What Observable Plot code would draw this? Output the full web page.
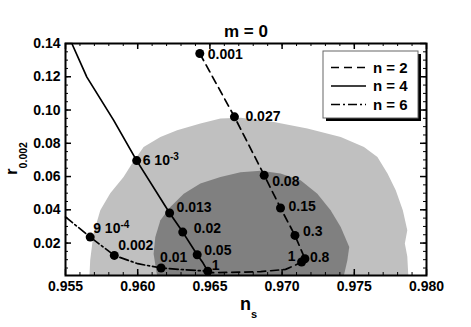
<!DOCTYPE html>
<html><head><meta charset="utf-8">
<script src="https://cdn.jsdelivr.net/npm/d3@7"></script>
<script src="https://cdn.jsdelivr.net/npm/@observablehq/plot@0.6"></script>
<style>body{margin:0;background:#fff}</style>
</head><body><div id="chart"></div>
<script>
// ---- data ----
const xTicks = [0.955, 0.960, 0.965, 0.970, 0.975, 0.980];
const yTicks = [0.02, 0.04, 0.06, 0.08, 0.10, 0.12, 0.14];
const xMinor = d3.range(0.955, 0.9805, 0.001);
const yMinor = d3.range(0.005, 0.1405, 0.005);

// 95% (light) and 68% (dark) regions
const lightNs = [0.95666,0.95671,0.95694,0.95741,0.95810,0.95902,0.95961,0.96041,0.96157,0.96273,0.96434,0.96573,0.96712,0.96943,0.97175,0.97406,0.97567,0.97660,0.97730,0.97787,0.97836,0.97867,0.97850,0.97867,0.97874];
const lightR  = [0.0005,0.0096,0.0257,0.0397,0.0499,0.0597,0.0678,0.0778,0.0838,0.0879,0.0919,0.0949,0.0954,0.0928,0.0889,0.0838,0.0778,0.0718,0.0618,0.0517,0.0397,0.0277,0.0198,0.0120,0.0005];
const darkNs = [0.96134,0.96110,0.96122,0.96157,0.96226,0.96319,0.96434,0.96573,0.96712,0.96851,0.96989,0.97128,0.97244,0.97336,0.97406,0.97465,0.97452,0.97428];
const darkR  = [0.0005,0.0136,0.0236,0.0337,0.0417,0.0497,0.0558,0.0597,0.0626,0.0635,0.0618,0.0578,0.0497,0.0397,0.0296,0.0176,0.0096,0.0005];

// n = 2 (dashed)
const n2CurveNs = [0.96430,0.96670,0.96876,0.96989,0.97089,0.97158,0.97135,0.97100,0.97024,0.96851,0.96643,0.96483];
const n2CurveR  = [0.1340,0.0959,0.0608,0.0411,0.0246,0.0106,0.0086,0.0071,0.0042,0.0028,0.0024,0.0021];
const n2Labels = ["0.001","0.027","0.08","0.15","0.3","0.8","1"];
const n2Ns = [0.96430,0.96670,0.96876,0.96989,0.97089,0.97158,0.97135];
const n2R  = [0.1340,0.0959,0.0608,0.0411,0.0246,0.0106,0.0086];

// n = 4 (solid)
const n4CurveNs = [0.95544,0.95648,0.95833,0.95993,0.96221,0.96312,0.96412,0.96452,0.96485];
const n4CurveR  = [0.1400,0.1198,0.0939,0.0696,0.0381,0.0266,0.0130,0.0081,0.0031];
const n4Labels = ["6 10^-3","0.013","0.02","0.05","1"];
const n4Ns = [0.95993,0.96221,0.96312,0.96412,0.96485];
const n4R  = [0.0696,0.0381,0.0266,0.0130,0.0031];

// n = 6 (dash-dot)
const n6CurveNs = [0.95500,0.95671,0.95838,0.96000,0.96162,0.96319,0.96485];
const n6CurveR  = [0.0357,0.0236,0.0126,0.0076,0.0050,0.0040,0.0031];
const n6Labels = ["9 10^-4","0.002","0.01"];
const n6Ns = [0.95671,0.95838,0.96162];
const n6R  = [0.0236,0.0126,0.0050];

// ---- label placement (style) ----
const n2Off = [[8,1,"start"],[11,0,"start"],[8,6,"start"],[8,-1,"start"],[8,-4,"start"],[5,-1,"start"],[-6,-6,"end"]];
const n4Off = [[6,0,"start"],[7,-5,"start"],[11,-4,"start"],[7,-4,"start"],[4,-6,"start"]];
const n6Off = [[3,-9,"start"],[4,-10,"start"],[-1,-11,"start"]];

const zip = (xs, ys) => xs.map((x, i) => ({ns: x, r: ys[i]}));
const light = zip(lightNs, lightR), dark = zip(darkNs, darkR);
const n2c = zip(n2CurveNs, n2CurveR), n4c = zip(n4CurveNs, n4CurveR), n6c = zip(n6CurveNs, n6CurveR);
const pts = (labels, xs, ys) => labels.map((l, i) => ({label: l, ns: xs[i], r: ys[i]}));
const n2p = pts(n2Labels, n2Ns, n2R), n4p = pts(n4Labels, n4Ns, n4R), n6p = pts(n6Labels, n6Ns, n6R);

const labelMarks = [];
[[n2p, n2Off], [n4p, n4Off], [n6p, n6Off]].forEach(([p, off]) => {
  p.forEach((d, i) => labelMarks.push(Plot.text([d], {x: "ns", y: "r", text: "label", dx: off[i][0], dy: off[i][1], textAnchor: off[i][2], fontSize: 14, fontWeight: "bold", fill: "black"})));
});

const W = 471, H = 327, mL = 65, mR = 45, mT = 43, mB = 52;
const pw = W - mL - mR, ph = H - mT - mB;
const font = "'Liberation Sans', Arial, Helvetica, sans-serif";
const chart = Plot.plot({
  width: W, height: H,
  marginLeft: mL, marginRight: mR, marginTop: mT, marginBottom: mB,
  style: {fontFamily: font, fontSize: "14px", fontWeight: "bold", background: "white", color: "black"},
  x: {domain: [0.955, 0.980], ticks: xTicks, tickSize: 0, tickPadding: 6, tickFormat: d3.format(".3f"), label: null},
  y: {domain: [0.0005, 0.14], ticks: yTicks, tickSize: 0, tickPadding: 5, tickFormat: d3.format(".2f"), label: null},
  marks: [
    Plot.line(light, {x: "ns", y: "r", fill: "#c0c0c0", stroke: "none"}),
    Plot.line(dark, {x: "ns", y: "r", fill: "#808080", stroke: "none"}),
    Plot.line(n2c, {x: "ns", y: "r", stroke: "black", strokeWidth: 1.7, strokeDasharray: "8,5"}),
    Plot.line(n4c, {x: "ns", y: "r", stroke: "black", strokeWidth: 1.7}),
    Plot.line(n6c, {x: "ns", y: "r", stroke: "black", strokeWidth: 1.7, strokeDasharray: "9,3,2,3"}),
    Plot.dot([...n2p, ...n4p, ...n6p], {x: "ns", y: "r", r: 4.5, fill: "black", stroke: "none"}),
    ...labelMarks,
    Plot.tickX(xMinor, {x: d => d, insetTop: ph - 3, stroke: "black"}),
    Plot.tickX(xMinor, {x: d => d, insetBottom: ph - 3, stroke: "black"}),
    Plot.tickX(xTicks, {x: d => d, insetTop: ph - 6, stroke: "black", strokeWidth: 1.5}),
    Plot.tickX(xTicks, {x: d => d, insetBottom: ph - 6, stroke: "black", strokeWidth: 1.5}),
    Plot.tickY(yMinor, {y: d => d, insetRight: pw - 3, stroke: "black"}),
    Plot.tickY(yMinor, {y: d => d, insetLeft: pw - 3, stroke: "black"}),
    Plot.tickY(yTicks, {y: d => d, insetRight: pw - 6, stroke: "black", strokeWidth: 1.5}),
    Plot.tickY(yTicks, {y: d => d, insetLeft: pw - 6, stroke: "black", strokeWidth: 1.5}),
    Plot.frame({stroke: "black", strokeWidth: 2})
  ]
});

const svg = d3.select(chart);
// superscripts
svg.selectAll("text").each(function() {
  const t = this.textContent;
  if (t.includes("^")) {
    const [base, sup] = t.split("^");
    this.textContent = base;
    d3.select(this).append("tspan").attr("dy", "-0.5em").attr("font-size", "10px").text(sup);
  }
});
// title
svg.append("text").attr("x", 246).attr("y", 36.5).attr("text-anchor", "middle")
  .attr("font-family", font).attr("font-size", 17).attr("font-weight", "bold").text("m = 0");
// x label
const xl = svg.append("text").attr("x", 240).attr("y", 310).attr("text-anchor", "start").attr("font-family", font).attr("font-weight", "bold").attr("font-size", 18);
xl.append("tspan").text("n");
xl.append("tspan").attr("font-size", 11).attr("dy", 8).text("s");
// y label
const yl = svg.append("text").attr("transform", "translate(17,175) rotate(-90)").attr("text-anchor", "start").attr("font-family", font).attr("font-weight", "bold").attr("font-size", 17);
yl.append("tspan").text("r");
yl.append("tspan").attr("font-size", 10.5).attr("dy", 10).text("0.002");
// legend
const lg = svg.append("g");
lg.append("rect").attr("x", 326).attr("y", 54).attr("width", 95).attr("height", 67).attr("fill", "black");
lg.append("rect").attr("x", 323).attr("y", 51).attr("width", 95).attr("height", 67).attr("fill", "white").attr("stroke", "#666").attr("stroke-width", 1);
const legendItems = [["n = 2", "8,5"], ["n = 4", null], ["n = 6", "9,3,2,3"]];
legendItems.forEach(([t, dash], i) => {
  const y = 67.5 + i * 18.5;
  lg.append("line").attr("x1", 331).attr("x2", 366).attr("y1", y).attr("y2", y)
    .attr("stroke", "black").attr("stroke-width", 1.7).attr("stroke-dasharray", dash);
  lg.append("text").attr("x", 373).attr("y", y + 5.3).attr("text-anchor", "start").attr("font-family", font).attr("font-weight", "bold").attr("font-size", 15).text(t);
});

document.getElementById("chart").appendChild(chart);
</script>
</body></html>
